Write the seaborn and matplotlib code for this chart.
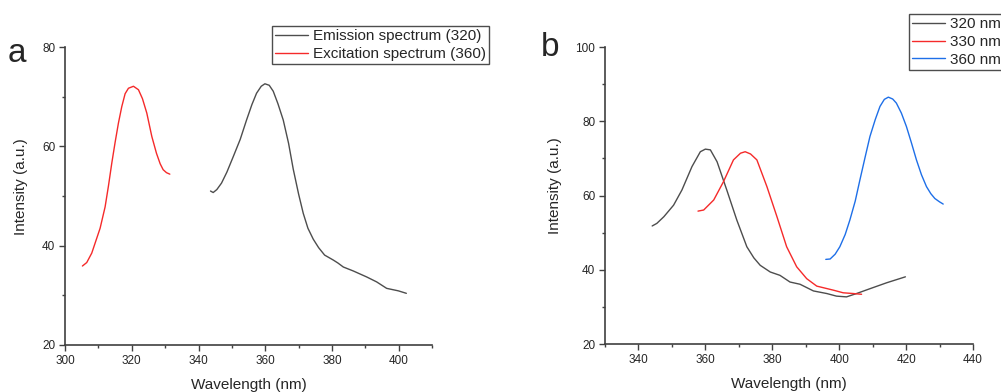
import seaborn as sns
import numpy as np
import pandas as pd
from matplotlib import pyplot as plt
from matplotlib.ticker import MultipleLocator

# panel a: excitation / emission spectra
exc_x = [305.2, 306.5, 308.0, 309.0, 310.5, 312.0, 313.0, 314.0, 315.0, 316.0, 317.0, 318.0, 319.0, 320.5, 322.0, 323.2,
         324.5, 326.0, 327.4, 328.5, 329.4, 330.4, 331.4]
exc_y = [35.9, 36.6, 38.5, 40.5, 43.5, 47.8, 52.0, 56.6, 60.8, 64.7, 68.0, 70.6, 71.7, 72.1, 71.4, 69.6,
         66.7, 62.0, 58.6, 56.5, 55.3, 54.7, 54.4]
emi_x = [343.6, 344.4, 345.5, 346.9, 348.5, 350.4, 352.5, 354.4, 356.0, 357.4, 358.8, 359.9, 361.2, 362.4, 363.8, 365.4, 367.0, 368.4,
         370.0, 371.4, 372.8, 374.4, 376.0, 377.8, 380.4, 381.8, 383.4, 386.4, 390.4, 393.4, 396.4, 399.9, 402.3]
emi_y = [51.0, 50.7, 51.3, 52.6, 54.8, 57.9, 61.4, 65.3, 68.4, 70.7, 72.1, 72.6, 72.3, 71.1, 68.6, 65.3, 60.6, 55.4,
         50.4, 46.5, 43.5, 41.3, 39.6, 38.1, 37.1, 36.5, 35.7, 34.9, 33.7, 32.7, 31.4, 30.9, 30.4]

# panel b: emission at three excitation wavelengths
b320_x = [344.1, 345.5, 347.6, 350.5, 353.0, 356.0, 358.5, 360.0, 361.5, 363.5, 366.4, 369.4, 372.4, 374.5, 376.4, 379.4, 382.3,
          385.3, 388.3, 392.3, 396.3, 399.2, 402.2, 405.2, 409.2, 414.2, 419.8]
b320_y = [51.8, 52.5, 54.3, 57.4, 61.5, 67.8, 71.8, 72.5, 72.3, 69.1, 61.5, 53.4, 46.2, 43.2, 41.2, 39.4, 38.5,
          36.7, 36.1, 34.3, 33.6, 32.9, 32.7, 33.6, 34.9, 36.5, 38.1]
b330_x = [357.8, 359.5, 362.5, 365.4, 368.4, 370.5, 371.9, 373.5, 375.4, 378.4, 381.4, 384.3, 387.3, 390.3, 393.3, 398.3, 401.2, 404.2, 406.7]
b330_y = [55.8, 56.1, 58.8, 63.7, 69.6, 71.4, 71.8, 71.2, 69.6, 62.4, 54.3, 46.2, 40.8, 37.6, 35.6, 34.5, 33.8, 33.6, 33.4]
b360_x = [396.0, 397.3, 398.8, 400.2, 401.8, 403.2, 404.8, 406.2, 407.8, 409.2, 410.8, 412.2, 413.5, 414.7, 416.0, 417.1, 418.6,
          420.1, 421.6, 423.1, 424.6, 426.1, 427.4, 428.6, 430.0, 431.1]
b360_y = [42.8, 42.9, 44.2, 46.2, 49.5, 53.4, 58.5, 64.2, 70.5, 75.9, 80.5, 84.0, 85.9, 86.5, 86.0, 84.9, 82.2,
          78.6, 74.2, 69.6, 65.6, 62.4, 60.5, 59.2, 58.3, 57.7]

sns.set_style('ticks')
plt.rcParams['font.family'] = ['Liberation Sans', 'DejaVu Sans']

fig = plt.figure(figsize=(10.01, 3.92), dpi=100)
ax_a = fig.add_axes([0.065, 0.120, 0.3666, 0.760])
ax_b = fig.add_axes([0.6044, 0.1224, 0.3676, 0.7576])

black = '#4d4d4d'
red = '#f52a2a'
blue = '#1e6fe8'

df_a = pd.concat([
    pd.DataFrame({'x': emi_x, 'y': emi_y, 's': 'Emission spectrum (320)'}),
    pd.DataFrame({'x': exc_x, 'y': exc_y, 's': 'Excitation spectrum (360)'}),
])
sns.lineplot(data=df_a, x='x', y='y', hue='s', palette=[black, red], sort=False,
             estimator=None, linewidth=1.0, ax=ax_a)

df_b = pd.concat([
    pd.DataFrame({'x': b320_x, 'y': b320_y, 's': '320 nm'}),
    pd.DataFrame({'x': b330_x, 'y': b330_y, 's': '330 nm'}),
    pd.DataFrame({'x': b360_x, 'y': b360_y, 's': '360 nm'}),
])
sns.lineplot(data=df_b, x='x', y='y', hue='s', palette=[black, red, blue], sort=False,
             estimator=None, linewidth=1.0, ax=ax_b)

for ax, xlim, ylim in [(ax_a, (300, 410), (20, 80)), (ax_b, (330, 440), (20, 100))]:
    ax.set_xlim(*xlim)
    ax.set_ylim(*ylim)
    ax.xaxis.set_minor_locator(MultipleLocator(10))
    ax.yaxis.set_major_locator(MultipleLocator(20))
    ax.yaxis.set_minor_locator(MultipleLocator(10))
    ax.tick_params(which='major', direction='out', length=4, width=1, color='#404040',
                   labelsize=8.5, pad=3)
    ax.tick_params(which='minor', direction='out', length=2.5, width=1, color='#404040')
    for side in ['top', 'right']:
        ax.spines[side].set_visible(False)
    for side in ['left', 'bottom']:
        ax.spines[side].set_color('#404040')
        ax.spines[side].set_linewidth(1.2)
    ax.set_xlabel('Wavelength (nm)', fontsize=11, labelpad=8)
    ax.set_ylabel('Intensity (a.u.)', fontsize=11, labelpad=10)
    ax.yaxis.label.set_y(0.532)

ax_a.set_xticks([300, 320, 340, 360, 380, 400])
ax_b.set_xticks([340, 360, 380, 400, 420, 440])

leg_a = ax_a.legend(loc='upper left', bbox_to_anchor=(272 / 1001, 1 - 26 / 392),
                    bbox_transform=fig.transFigure, frameon=True, fancybox=False,
                    fontsize=11, handlelength=2.15, handletextpad=0.35, borderpad=0.2,
                    labelspacing=0.25, borderaxespad=0)
leg_a.get_frame().set_edgecolor('#202020')
leg_a.get_frame().set_linewidth(1.0)

leg_b = ax_b.legend(loc='upper left', bbox_to_anchor=(909 / 1001, 1 - 14 / 392),
                    bbox_transform=fig.transFigure, frameon=True, fancybox=False,
                    fontsize=11, handlelength=2.15, handletextpad=0.35, borderpad=0.2,
                    labelspacing=0.25, borderaxespad=0)
leg_b.get_frame().set_edgecolor('#202020')
leg_b.get_frame().set_linewidth(1.0)

fig.text(8 / 1001, 1 - 62 / 392, 'a', fontsize=24)
fig.text(541 / 1001, 1 - 56 / 392, 'b', fontsize=24)

fig.savefig('out.png', dpi=100)
